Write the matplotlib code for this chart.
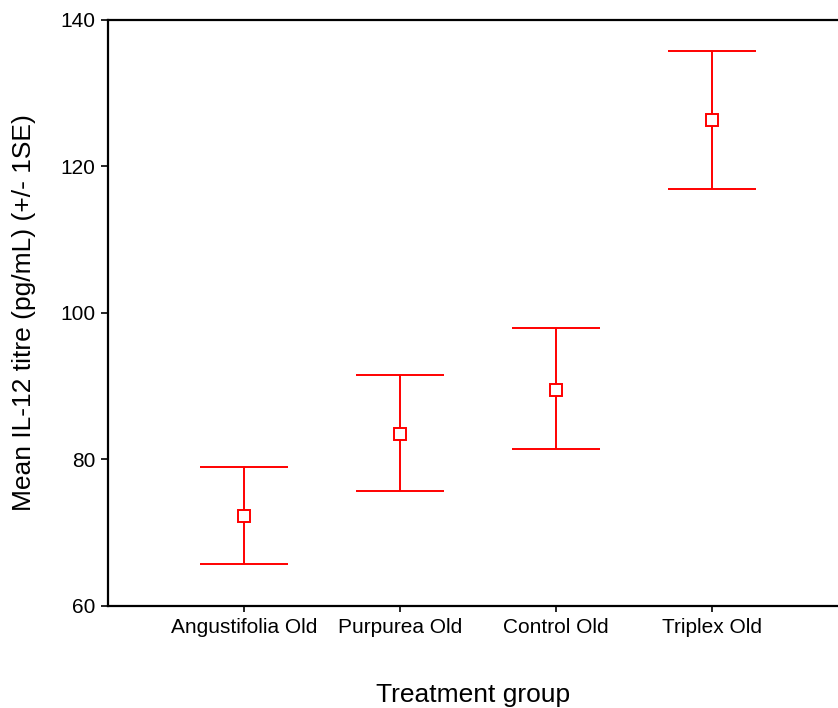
import matplotlib.pyplot as plt

groups = ['Angustifolia Old', 'Purpurea Old', 'Control Old', 'Triplex Old']
mean_il12 = [72.3, 83.5, 89.5, 126.4]
upper = [79.0, 91.5, 97.9, 135.8]
lower = [65.7, 75.6, 81.4, 116.9]

plt.rcParams['font.family'] = ['Liberation Sans', 'DejaVu Sans']

fig = plt.figure(figsize=(8.38, 7.08), dpi=100)
ax = fig.add_axes([0.1285, 0.1445, 0.8715, 0.8273])

x = list(range(1, len(groups) + 1))
err_lo = [m - l for m, l in zip(mean_il12, lower)]
err_hi = [u - m for m, u in zip(mean_il12, upper)]

ax.errorbar(x, mean_il12, yerr=[err_lo, err_hi], fmt='none', ecolor='red',
            elinewidth=1.4, capsize=32, capthick=1.4, zorder=2)
ax.plot(x, mean_il12, ls='none', marker='s', ms=8, mfc='white', mec='red',
        mew=1.4, zorder=3)

ax.set_xlim(0.128, 4.81)
ax.set_ylim(60, 140)
ax.set_yticks([60, 80, 100, 120, 140])
ax.set_xticks(x)
ax.set_xticklabels(groups)

ax.spines['right'].set_visible(False)
for s in ['left', 'bottom', 'top']:
    ax.spines[s].set_linewidth(1.6)
ax.tick_params(axis='y', direction='out', length=5, width=1.2, labelsize=15, pad=4)
ax.tick_params(axis='x', direction='out', length=4, width=1.2, labelsize=15, pad=5)

ax.set_xlabel('Treatment group', fontsize=19, labelpad=33)
ax.set_ylabel('Mean IL-12 titre (pg/mL) (+/- 1SE)', fontsize=19, labelpad=17)

fig.savefig('out.png', dpi=100)
